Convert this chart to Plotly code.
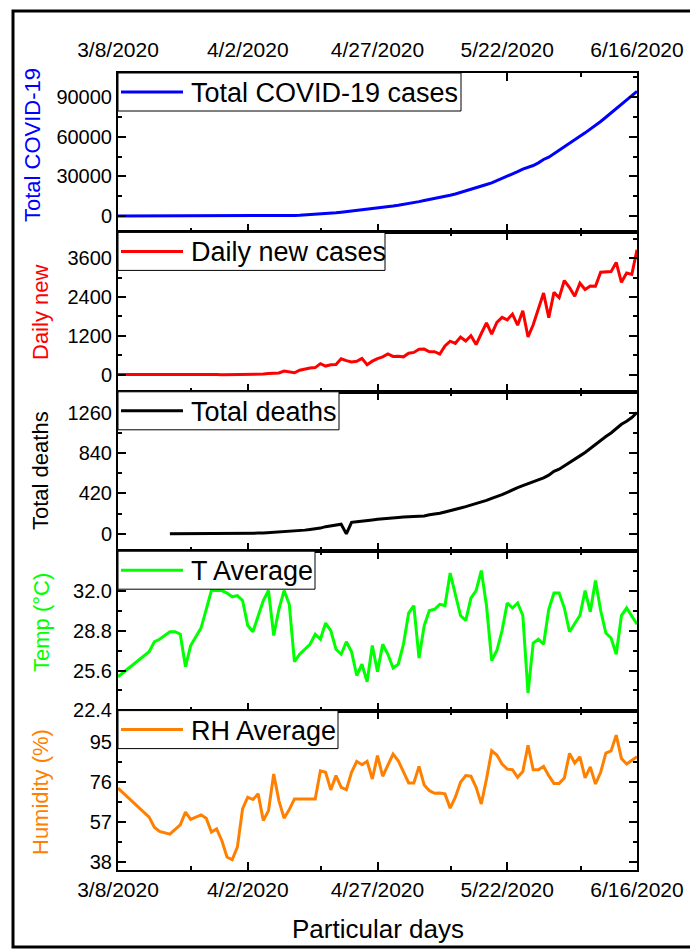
import pandas as pd
import plotly.graph_objects as go

# ---------------- data ----------------
start_date = "2020-03-08"
end_date = "2020-06-16"
case_dates = pd.date_range(start_date, end_date, freq="D")

total_cases = [
    3, 3, 3, 3, 3, 3, 3,
    5, 8, 10, 14, 17, 20, 24, 27, 33, 39, 39, 44, 48, 48, 48, 49, 51,
    54, 56, 61, 70, 88, 123, 164, 218, 330, 424, 482, 621, 803, 1012, 1231,
    1572, 1838, 2144, 2456, 2948, 3382, 3772, 4186, 4689, 4998, 5416, 5913,
    6462, 7103, 7667,
    8238, 8790, 9455, 10143, 10929, 11719, 12425, 13134, 13770, 14657, 15691,
    16660, 17822, 18863, 20065, 20995, 22268, 23870, 25121, 26738, 28511,
    30205, 32078, 33610, 35585, 36751, 38292, 40321, 42844, 44608, 47153,
    49534, 52445, 55140, 57563, 60391, 63026, 65769, 68504, 71675, 74865,
    78052, 81523, 84379, 87520, 90619, 94481,
]

daily_new = [
    3, 0, 0, 0, 0, 0, 0,
    2, 3, 2, 4, 3, 3, 4, 3, 6, 6, 0, 5, 4, 0, 0, 1, 2,
    3, 2, 5, 9, 18, 35, 41, 54, 112, 94, 58, 139, 182, 209, 219, 341, 266,
    306, 312, 492, 434, 390, 414, 503, 309, 418, 497, 549, 641, 564,
    571, 552, 665, 688, 786, 790, 706, 709, 636, 887, 1034, 969, 1162, 1041,
    1202, 930, 1273, 1602, 1251, 1617, 1773, 1694, 1873, 1532, 1975, 1166,
    1541, 2029, 2523, 1764, 2545,
    2381, 2911, 2695, 2423, 2828, 2635, 2743, 2735, 3171, 3190, 3187, 3471,
    2856, 3141, 3099, 3862,
]

death_dates = pd.date_range("2020-03-18", end_date, freq="D")
total_deaths = [
    1, 1, 1, 2, 2, 3, 4, 5, 5, 5, 5, 5, 5, 5,
    6, 6, 6, 8, 9, 12, 17, 20, 21, 27, 30, 34, 39, 46, 50, 60, 75, 84, 91,
    101, 0, 120, 127, 131, 140, 145, 152, 155, 163, 168,
    170, 175, 177, 182, 183, 186, 199, 206, 214, 228, 239, 250, 269, 283,
    298, 314, 328, 349, 370, 386, 408, 432, 452, 480, 501, 522, 544, 559,
    582, 610, 650,
    672, 709, 746, 781, 811, 846, 888, 930, 975, 1012, 1049, 1095, 1139,
    1171, 1209, 1262,
]

# days counted from 3/8/2020
t_day = [0, 6, 7, 8, 10, 11, 12, 13, 14, 16,
         17, 18, 20, 21, 22, 23, 24, 25, 26, 27,
         28, 29, 30, 31, 32, 33, 34, 35, 37, 38,
         39, 40, 41, 42, 43, 44, 45, 46, 47, 48,
         49, 50, 51, 52, 53, 54, 55, 56, 57, 58,
         59, 60, 61, 62, 63, 64, 65, 66, 67, 68,
         69, 70, 71, 72, 73, 74, 75, 76, 77, 78,
         79, 80, 81, 82, 83, 84, 85, 86, 87, 88,
         89, 90, 91, 92, 93, 94, 95, 96, 97, 98,
         100]
t_avg = [25.1, 27.1, 27.9, 28.1, 28.7, 28.7, 28.5, 25.9, 27.6, 29.0,
         30.5, 32.0, 32.0, 31.8, 31.5, 31.6, 31.2, 29.2, 28.7, 30.0,
         31.2, 32.0, 28.4, 30.5, 32.0, 30.9, 26.3, 26.9, 27.7, 28.5,
         28.1, 29.4, 28.8, 27.3, 26.9, 27.9, 27.1, 25.2, 26.1, 24.7,
         27.6, 25.5, 27.7, 26.9, 25.8, 26.1, 27.7, 30.2, 30.8, 26.6,
         29.2, 30.4, 30.5, 30.9, 30.8, 33.4, 31.6, 30.0, 29.6, 31.4,
         32.0, 33.6, 30.8, 26.4, 27.2, 28.8, 31.0, 30.6, 31.0, 30.0,
         23.8, 27.8, 28.1, 27.7, 30.5, 31.8, 31.8, 30.6, 28.7, 29.4,
         30.0, 32.0, 30.3, 32.8, 30.4, 28.6, 28.2, 26.9, 30.0, 30.6,
         29.3]

rh_day = [0, 6, 7, 8, 10, 12, 13, 14, 16, 17,
          18, 19, 20, 21, 22, 23, 24, 25, 26, 27,
          28, 29, 30, 31, 32, 33, 34, 38, 39, 40,
          41, 42, 43, 44, 45, 46, 47, 48, 49, 50,
          51, 52, 53, 54, 55, 56, 57, 58, 59, 60,
          61, 62, 63, 64, 65, 66, 67, 68, 69, 70,
          71, 72, 73, 74, 75, 76, 77, 78, 79, 80,
          81, 82, 83, 84, 85, 86, 87, 88, 89, 90,
          91, 92, 93, 94, 95, 96, 97, 98, 100]
rh_avg = [73.2, 59.4, 54.6, 52.6, 51.3, 55.7, 61.8, 58.3, 60.5, 58.9,
          52.3, 53.8, 48.3, 40.4, 39.1, 45.1, 63.3, 68.9, 67.8, 70.5,
          57.8, 62.5, 80.0, 67.3, 58.9, 63.0, 68.1, 68.1, 81.5, 80.8,
          72.4, 79.2, 73.6, 72.5, 80.8, 86.0, 84.4, 86.0, 77.6, 88.7,
          78.9, 84.2, 89.5, 86.3, 80.8, 75.7, 75.7, 83.6, 74.7, 72.0,
          70.8, 70.9, 70.5, 63.7, 68.9, 76.0, 79.2, 78.9, 73.6, 65.7,
          77.6, 91.0, 89.0, 84.7, 82.3, 82.0, 78.4, 81.1, 93.7, 82.0,
          82.0, 83.6, 79.2, 75.5, 75.5, 78.1, 89.8, 85.2, 88.2, 78.1,
          83.4, 75.2, 80.8, 89.9, 91.0, 98.5, 87.4, 84.7, 88.2]

x_tick_dates = ["2020-03-08", "2020-04-02", "2020-04-27", "2020-05-22", "2020-06-16"]
x_tick_text = ["3/8/2020", "4/2/2020", "4/27/2020", "5/22/2020", "6/16/2020"]

series_names = ["Total COVID-19 cases", "Daily new cases", "Total deaths",
                "T Average", "RH Average"]
y_titles = ["Total COVID-19", "Daily new", "Total deaths", "Temp (\u00b0C)", "Humidity (%)"]
y_ranges = [[-12400, 108400], [-530, 4400], [-180, 1477], [22.39, 35.15], [34.2, 110.2]]
y_tick_vals = [[0, 30000, 60000, 90000], [0, 1200, 2400, 3600], [0, 420, 840, 1260],
               [22.4, 25.6, 28.8, 32.0], [38, 57, 76, 95]]
y_tick_text = [["0", "30000", "60000", "90000"], ["0", "1200", "2400", "3600"],
               ["0", "420", "840", "1260"], ["22.4", "25.6", "28.8", "32.0"],
               ["38", "57", "76", "95"]]
y_minor_start = [15000, 600, 210, 24.0, 47.5]
y_minor_step = [30000, 1200, 420, 3.2, 19]

colors = ["#0000FF", "#FF0000", "#000000", "#00FF00", "#FF8000"]

# ---------------- figure ----------------
FONT = "Arial, 'Liberation Sans', sans-serif"
W, H = 690, 952
ML, MR, MT, MB = 118, 53, 73, 82
PW = W - ML - MR
PH = H - MT - MB

base = pd.Timestamp(start_date)
t_dates = base + pd.to_timedelta(t_day, unit="D")
rh_dates = base + pd.to_timedelta(rh_day, unit="D")

xs = [case_dates, case_dates, death_dates, t_dates, rh_dates]
ys = [total_cases, daily_new, total_deaths, t_avg, rh_avg]

fig = go.Figure()
n = 5
for i in range(n):
    sfx = "" if i == 0 else str(i + 1)
    fig.add_trace(go.Scatter(
        x=xs[i], y=ys[i], mode="lines", name=series_names[i],
        line=dict(color=colors[i], width=3),
        xaxis="x" + sfx, yaxis="y" + sfx, showlegend=False,
    ))

layout = dict(
    width=W, height=H, autosize=False,
    margin=dict(l=ML, r=MR, t=MT, b=MB, pad=0, autoexpand=False),
    paper_bgcolor="white", plot_bgcolor="white",
    font=dict(family=FONT, size=20, color="black"),
    showlegend=False,
)

axis_common = dict(
    showline=True, linewidth=2, linecolor="black", mirror="ticks",
    ticks="inside", ticklen=8, tickwidth=2, tickcolor="black",
    showgrid=False, zeroline=False, automargin=False,
    tickfont=dict(family=FONT, size=20, color="black"),
)

minor_x_start = pd.Timestamp("2020-03-22 03:30")
for i in range(n):
    sfx = "" if i == 0 else str(i + 1)
    top = 1 - i / n
    bot = 1 - (i + 1) / n
    xa = dict(axis_common)
    xa.update(
        type="date", range=[start_date, end_date], anchor="y" + sfx,
        domain=[0, 1], tickmode="array", tickvals=x_tick_dates, ticktext=x_tick_text,
        tickfont=dict(family=FONT, size=21, color="black"),
        minor=dict(ticks="inside", ticklen=4, tickwidth=2, tickcolor="black",
                   tick0=minor_x_start, dtick=25 * 86400000, showgrid=False),
    )
    if i == 0:
        xa.update(side="top", showticklabels=True, ticklabelstandoff=6)
    elif i == n - 1:
        xa.update(side="bottom", showticklabels=True)
    else:
        xa.update(showticklabels=False)
    if i > 0:
        xa["matches"] = "x"
    layout["xaxis" + sfx] = xa

    ya = dict(axis_common)
    ya.update(
        domain=[bot, top], anchor="x" + sfx, range=y_ranges[i],
        tickmode="array", tickvals=y_tick_vals[i], ticktext=y_tick_text[i],
        minor=dict(ticks="inside", ticklen=4, tickwidth=2, tickcolor="black",
                   tick0=y_minor_start[i], dtick=y_minor_step[i], showgrid=False),
    )
    layout["yaxis" + sfx] = ya

fig.update_layout(**layout)

def px_to_paper_x(px):
    return (px - ML) / PW

def px_to_paper_y(py):
    return (H - MB - py) / PH

# y titles and x title
title_x_px = [33, 40, 40, 41, 40]
title_y_px = [145, 313, 471, 623, 792]
annotations = []
for i in range(n):
    annotations.append(dict(
        text=y_titles[i], x=px_to_paper_x(title_x_px[i]), y=px_to_paper_y(title_y_px[i]),
        xref="paper", yref="paper", xanchor="center", yanchor="middle",
        textangle=-90, showarrow=False,
        font=dict(family=FONT, size=22, color=colors[i]),
    ))
annotations.append(dict(
    text="Particular days", x=0.5, y=px_to_paper_y(929),
    xref="paper", yref="paper", xanchor="center", yanchor="middle",
    showarrow=False, font=dict(family=FONT, size=26, color="black"),
))

# legend boxes (one per panel, top-left corner)
legend_right_px = [461, 385, 339, 315, 338]
LEG_H = 38
shapes = []
for i in range(n):
    top_px = MT + i * PH / n
    mid_px = top_px + LEG_H / 2
    shapes.append(dict(
        type="rect", xref="paper", yref="paper",
        x0=0, x1=px_to_paper_x(legend_right_px[i]),
        y0=px_to_paper_y(top_px + LEG_H), y1=px_to_paper_y(top_px),
        line=dict(color="black", width=1), fillcolor="white", layer="above",
    ))
    shapes.append(dict(
        type="line", xref="paper", yref="paper",
        x0=px_to_paper_x(121), x1=px_to_paper_x(183),
        y0=px_to_paper_y(mid_px), y1=px_to_paper_y(mid_px),
        line=dict(color=colors[i], width=3), layer="above",
    ))
    annotations.append(dict(
        text=series_names[i], x=px_to_paper_x(189), y=px_to_paper_y(mid_px + 1),
        xref="paper", yref="paper", xanchor="left", yanchor="middle",
        showarrow=False, font=dict(family=FONT, size=27, color="black"),
    ))

# outer frame
shapes.append(dict(
    type="rect", xref="paper", yref="paper",
    x0=px_to_paper_x(13), x1=px_to_paper_x(702),
    y0=px_to_paper_y(947), y1=px_to_paper_y(11),
    line=dict(color="black", width=3), fillcolor="rgba(0,0,0,0)", layer="above",
))

fig.update_layout(annotations=annotations, shapes=shapes)

fig.write_html(
    "out.html",
    config={"displayModeBar": False},
    post_script="document.body.style.margin='0';document.body.style.overflow='hidden';",
)
